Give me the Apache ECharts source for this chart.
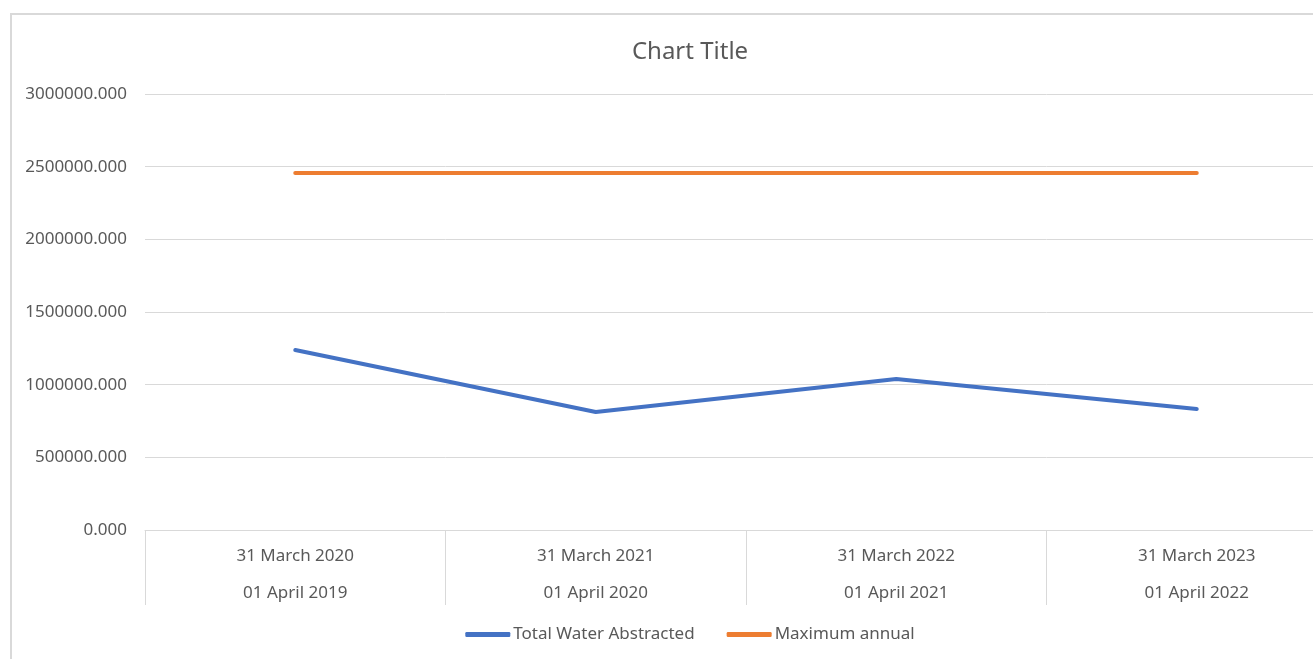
<!DOCTYPE html>
<html>
<head>
    <meta charset="utf-8">
    <title>Chart Title</title>
    <script src="https://cdn.jsdelivr.net/npm/echarts@6/dist/echarts.min.js"></script>
    <style>
        body { margin: 0; overflow: hidden; background: #fff; }
        #frame { position: absolute; left: 10px; top: 13px; width: 1360px; height: 700px; border: 2px solid #d9d9d9; }
        #waterChart { position: absolute; left: 0; top: 0; width: 1380px; height: 659px; }
    </style>
</head>
<body>

<div id="frame"></div>
<div id="waterChart"></div>

<script type="text/javascript">
    var periodEnd = ['31 March 2020', '31 March 2021', '31 March 2022', '31 March 2023'];
    var periodStart = ['01 April 2019', '01 April 2020', '01 April 2021', '01 April 2022'];
    var totalAbstracted = [1238000, 812000, 1039000, 832000];
    var maxAnnual = [2456000, 2456000, 2456000, 2456000];

    var categories = [];
    for (var i = 0; i < periodEnd.length; i++) {
        categories.push(periodEnd[i] + '\n' + periodStart[i]);
    }

    var textColor = '#595959';
    var lineGrey = '#d9d9d9';
    var font = 'Noto Sans';

    var waterChart = echarts.init(document.getElementById('waterChart'));
    waterChart.setOption({
        animation: false,
        title: {
            text: 'Chart Title',
            left: 'center',
            top: 35,
            textStyle: { fontFamily: font, fontSize: 24, fontWeight: 'normal', color: textColor }
        },
        legend: {
            bottom: 11,
            left: 'center',
            itemWidth: 45,
            itemHeight: 5,
            itemGap: 32,
            icon: 'roundRect',
            textStyle: { fontFamily: font, fontSize: 17, color: textColor, padding: [0, 0, 0, -2] },
            data: ['Total Water Abstracted', 'Maximum annual']
        },
        grid: {
            left: 145,
            right: 33,
            top: 94,
            bottom: 129,
            containLabel: false
        },
        xAxis: {
            type: 'category',
            data: categories,
            boundaryGap: true,
            axisLine: { lineStyle: { color: lineGrey, width: 1 } },
            axisTick: { show: true, length: 75, interval: 0, lineStyle: { color: lineGrey, width: 1 } },
            axisLabel: {
                interval: 0,
                margin: 8,
                fontFamily: font,
                fontSize: 17,
                lineHeight: 37,
                color: textColor
            }
        },
        yAxis: {
            type: 'value',
            min: 0,
            max: 3000000,
            interval: 500000,
            axisLine: { show: false },
            axisTick: { show: false },
            splitLine: { lineStyle: { color: lineGrey, width: 1 } },
            axisLabel: {
                margin: 18,
                fontFamily: font,
                fontSize: 17,
                color: textColor,
                formatter: function (v) { return v.toFixed(3); }
            }
        },
        series: [
            {
                name: 'Total Water Abstracted',
                type: 'line',
                data: totalAbstracted,
                showSymbol: false,
                symbol: 'none',
                itemStyle: { color: '#4472C4' },
                lineStyle: { color: '#4472C4', width: 4, cap: 'round', join: 'round' }
            },
            {
                name: 'Maximum annual',
                type: 'line',
                data: maxAnnual,
                showSymbol: false,
                symbol: 'none',
                itemStyle: { color: '#ED7D31' },
                lineStyle: { color: '#ED7D31', width: 4, cap: 'round' }
            }
        ]
    });
</script>
</body>
</html>
